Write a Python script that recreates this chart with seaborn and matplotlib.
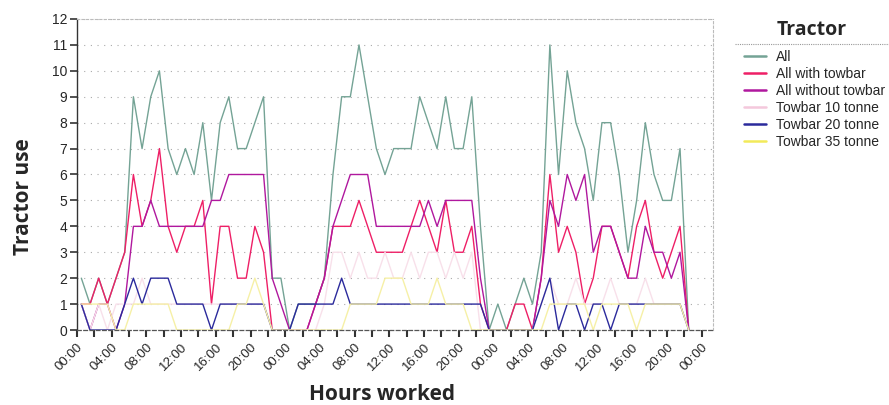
import matplotlib.pyplot as plt
import seaborn as sns
import numpy as np
import pandas as pd
from matplotlib.lines import Line2D

# hourly counts, hour 0 = 00:00-01:00 on day 1 (three days)
hour = list(range(71))

all_tractors = [2, 1, 2, 1, 2, 3, 9, 7, 9, 10, 7, 6, 7, 6, 8, 5, 8, 9, 7, 7, 8, 9, 2, 2,
                0, 1, 1, 1, 2, 6, 9, 9, 11, 9, 7, 6, 7, 7, 7, 9, 8, 7, 9, 7, 7, 9, 4, 0,
                1, 0, 1, 2, 1, 3, 11, 6, 10, 8, 7, 5, 8, 8, 6, 3, 5, 8, 6, 5, 5, 7, 0]
with_towbar = [1, 1, 2, 1, 2, 3, 6, 4, 5, 7, 4, 3, 4, 4, 5, 1, 4, 4, 2, 2, 4, 3, 0, 0,
               0, 0, 0, 1, 2, 4, 4, 4, 5, 4, 3, 3, 3, 3, 4, 5, 4, 3, 5, 3, 3, 4, 1, 0,
               0, 0, 1, 1, 0, 2, 6, 3, 4, 3, 1, 2, 4, 4, 3, 2, 4, 5, 3, 2, 3, 4, 0]
without_towbar = [1, 0, 1, 1, 0, 1, 4, 4, 5, 4, 4, 4, 4, 4, 4, 5, 5, 6, 6, 6, 6, 6, 2, 1,
                  0, 0, 0, 1, 2, 4, 5, 6, 6, 6, 4, 4, 4, 4, 4, 4, 5, 4, 5, 5, 5, 5, 2, 0,
                  0, 0, 0, 0, 0, 2, 5, 4, 6, 5, 6, 3, 4, 4, 3, 2, 2, 4, 3, 3, 2, 3, 0]
towbar_10 = [1, 0, 1, 0, 1, 1, 1, 2, 1, 1, 1, 1, 1, 1, 1, 1, 1, 1, 1, 1, 1, 1, 0, 0,
             0, 0, 0, 0, 1, 3, 3, 2, 3, 2, 2, 3, 2, 2, 3, 2, 3, 3, 2, 3, 2, 3, 0, 0,
             0, 0, 0, 0, 0, 1, 2, 1, 1, 2, 1, 1, 1, 2, 1, 1, 1, 2, 1, 1, 1, 1, 0]
towbar_20 = [1, 0, 0, 0, 0, 1, 2, 1, 2, 2, 2, 1, 1, 1, 1, 0, 1, 1, 1, 1, 1, 1, 0, 0,
             0, 1, 1, 1, 1, 1, 2, 1, 1, 1, 1, 1, 1, 1, 1, 1, 1, 1, 1, 1, 1, 1, 1, 0,
             0, 0, 0, 0, 0, 1, 2, 0, 1, 1, 0, 1, 1, 0, 1, 1, 1, 1, 1, 1, 1, 1, 0]
towbar_35 = [1, 1, 1, 1, 0, 0, 1, 1, 1, 1, 1, 0, 0, 0, 0, 0, 0, 0, 1, 1, 2, 1, 0, 0,
             0, 0, 0, 0, 0, 0, 0, 1, 1, 1, 1, 2, 2, 2, 1, 1, 1, 2, 1, 1, 1, 0, 0, 0,
             0, 0, 0, 0, 0, 0, 1, 1, 1, 1, 1, 0, 1, 1, 1, 1, 0, 1, 1, 1, 1, 1, 0]

series = {
    "All": all_tractors,
    "All with towbar": with_towbar,
    "All without towbar": without_towbar,
    "Towbar 10 tonne": towbar_10,
    "Towbar 20 tonne": towbar_20,
    "Towbar 35 tonne": towbar_35,
}
colors = {
    "All": "#74a395",
    "All with towbar": "#ee1f66",
    "All without towbar": "#b0189e",
    "Towbar 10 tonne": "#f8e0ea",
    "Towbar 20 tonne": "#2b2a9c",
    "Towbar 35 tonne": "#f6f0a6",
}
tick_labels = ["00:00", "04:00", "08:00", "12:00", "16:00", "20:00"] * 3 + ["00:00"]

rows = []
for name, vals in series.items():
    for h, v in zip(hour, vals):
        rows.append({"hour": h + 0.5, "use": v, "Tractor": name})
df = pd.DataFrame(rows)

sns.set_theme(style="white")
plt.rcParams["font.family"] = ["Liberation Sans", "DejaVu Sans"]
bold_font = ["Open Sans", "DejaVu Sans"]

fig = plt.figure(figsize=(8.89, 4.05), dpi=100)
ax = fig.add_axes([77 / 889, 1 - 330 / 405, 636 / 889, 311 / 405])

sns.lineplot(data=df, x="hour", y="use", hue="Tractor", hue_order=list(series),
             palette=colors, linewidth=1.0, ax=ax)

ax.set_xlim(0, 73.3)
ax.set_ylim(0, 12)
ax.set_yticks(range(13))
ax.set_xticks(range(0, 73, 4))
ax.set_xticklabels(tick_labels, rotation=45, ha="right", rotation_mode="anchor", fontsize=9.5)
ax.set_xticks(range(0, 73, 2), minor=True)
ax.tick_params(axis="y", labelsize=10, length=5, width=1.2, color="#333333", pad=2, left=True)
ax.tick_params(axis="x", which="both", length=5, width=1.5, color="#333333", bottom=True, pad=3)

ax.yaxis.grid(True, linestyle=(0, (1, 5)), color="#aaaaaa", linewidth=0.8)
for side in ["top", "right"]:
    ax.spines[side].set_color("#bbbbbb")
    ax.spines[side].set_linestyle((0, (2, 2)))
    ax.spines[side].set_linewidth(0.8)
ax.spines["left"].set_color("#333333")
ax.spines["left"].set_linewidth(1.0)
ax.spines["bottom"].set_color("#555555")
ax.spines["bottom"].set_linestyle((0, (3, 2)))
ax.spines["bottom"].set_linewidth(0.9)

ax.set_xlabel("Hours worked", fontsize=15, fontweight="bold", family=bold_font)
ax.xaxis.set_label_coords((382 - 77) / 636, (330 - 395) / 311)
ax.xaxis.label.set_va("center")
ax.set_ylabel("Tractor use", fontsize=15, fontweight="bold", family=bold_font)
ax.yaxis.set_label_coords((24 - 77) / 636, (330 - 197) / 311)
ax.yaxis.label.set_va("center")

# legend: title and rule drawn separately so spacing matches
handles, labels = ax.get_legend_handles_labels()
for hnd, lab in zip(handles, labels):
    hnd.set_linewidth(1.8)
    if lab == "Towbar 10 tonne":
        hnd.set_color("#f4c8dc")
    if lab == "Towbar 35 tonne":
        hnd.set_color("#f2ea5a")
leg = ax.legend(handles, labels, loc="upper left",
                bbox_to_anchor=(744 / 889, 1 - 50 / 405), bbox_transform=fig.transFigure,
                frameon=False, fontsize=10, handlelength=1.6, handletextpad=0.7,
                labelspacing=0.22, borderaxespad=0, borderpad=0)

fig.text(812 / 889, 1 - 30 / 405, "Tractor", ha="center", va="center",
         fontsize=14, fontweight="bold", family=bold_font)
fig.add_artist(Line2D([735 / 889, 1.0], [1 - 44 / 405] * 2, transform=fig.transFigure,
                      linestyle=(0, (1, 1)), color="#999999", linewidth=0.8))

fig.savefig("out.png", dpi=100)
